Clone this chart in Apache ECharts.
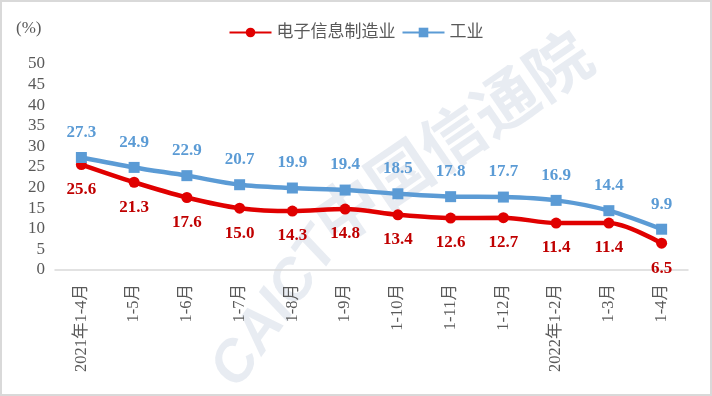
<!DOCTYPE html>
<html><head><meta charset="utf-8">
<script src="https://cdn.jsdelivr.net/npm/echarts@6/dist/echarts.min.js"></script>
<style>
html,body{margin:0;padding:0;background:#fff;}
#c{width:708px;height:392px;border:2px solid #d9d9d9;}
</style></head>
<body><div id="c"></div>
<script>
const categories = ['2021年1-4月','1-5月','1-6月','1-7月','1-8月','1-9月','1-10月','1-11月','1-12月','2022年1-2月','1-3月','1-4月'];
const electronics = [25.6,21.3,17.6,15.0,14.3,14.8,13.4,12.6,12.7,11.4,11.4,6.5];
const industry = [27.3,24.9,22.9,20.7,19.9,19.4,18.5,17.8,17.7,16.9,14.4,9.9];
const seriesNames = ['电子信息制造业','工业'];

const font = '"Liberation Serif","Noto Sans CJK SC",serif';
const chart = echarts.init(document.getElementById('c'));
chart.setOption({
  animation:false,
  textStyle:{fontFamily:font},
  graphic:[
    {type:'text',left:14,top:18,style:{text:'(%)',font:'17px '+font,fill:'#595959'}},
    {type:'text',x:246,y:396,rotation:0.95,z:-1,
     style:{text:'CAICT',align:'left',verticalAlign:'bottom',font:'italic bold 58px "Liberation Sans",sans-serif',fill:'rgba(120,140,175,0.17)'}},
    {type:'text',x:336,y:252,rotation:0.6,z:-1,
     style:{text:'中国信通院',align:'left',verticalAlign:'bottom',font:'bold 64px "Noto Sans CJK SC",sans-serif',fill:'rgba(120,140,175,0.17)'}}
  ],
  legend:{
    top:17,left:'center',itemWidth:42,itemHeight:12,itemGap:6,
    textStyle:{fontSize:17,color:'#595959',fontFamily:font},
    data:seriesNames
  },
  grid:{left:53,right:22,top:62,bottom:124},
  xAxis:{
    type:'category',data:categories,boundaryGap:true,
    axisLine:{lineStyle:{color:'#d9d9d9',width:1.5}},
    axisTick:{show:false},
    axisLabel:{rotate:90,interval:0,fontSize:16.5,color:'#595959',margin:14,fontFamily:font}
  },
  yAxis:{
    type:'value',min:0,max:50,interval:5,
    axisLine:{show:false},axisTick:{show:false},splitLine:{show:false},
    axisLabel:{fontSize:17,color:'#595959',margin:10,fontFamily:font}
  },
  series:[
    {name:seriesNames[0],type:'line',data:electronics,smooth:0.3,
     symbol:'circle',symbolSize:11,
     lineStyle:{color:'#e00000',width:4.5},itemStyle:{color:'#e00000'},
     label:{show:true,position:'bottom',distance:11,color:'#c00000',fontWeight:'bold',fontSize:17,fontFamily:font,
       formatter:p=>p.value.toFixed(1)}},
    {name:seriesNames[1],type:'line',data:industry,smooth:0.3,
     symbol:'rect',symbolSize:11,
     lineStyle:{color:'#5b9bd5',width:4.5},itemStyle:{color:'#5b9bd5'},
     label:{show:true,position:'top',distance:11,color:'#5b9bd5',fontWeight:'bold',fontSize:17,fontFamily:font,
       formatter:p=>p.value.toFixed(1)}}
  ]
});
</script></body></html>
